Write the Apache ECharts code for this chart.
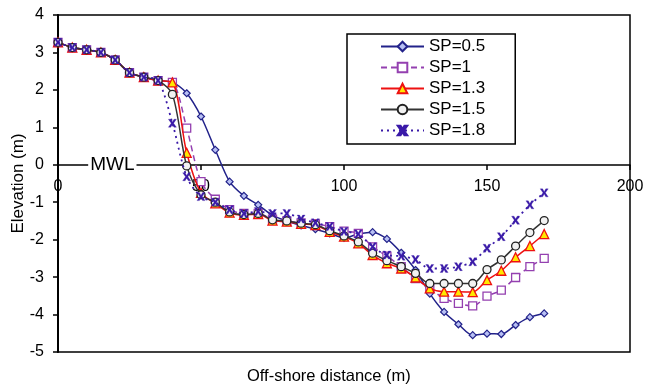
<!DOCTYPE html>
<html>
<head>
<meta charset="utf-8">
<script src="https://cdn.jsdelivr.net/npm/echarts@6/dist/echarts.min.js"></script>
<style>
html,body{margin:0;padding:0;background:#fff;}
#chart{width:646px;height:385px;}
</style>
</head>
<body>
<div id="chart"></div>
<script>
const distances = [0,5,10,15,20,25,30,35,40,45,50,55,60,65,70,75,80,85,90,95,100,105,110,115,120,125,130,135,140,145,150,155,160,165,170];
const shoreProfile = [3.27,3.13,3.07,3.0,2.8,2.46,2.34,2.25];
const sp05 = [2.2,1.91,1.29,0.40,-0.45,-0.83,-1.07,-1.35,-1.5,-1.62,-1.72,-1.83,-1.95,-1.85,-1.80,-1.98,-2.35,-2.81,-3.44,-3.93,-4.26,-4.55,-4.51,-4.52,-4.28,-4.07,-3.97];
const sp10 = [2.2,0.98,-0.45,-0.92,-1.2,-1.3,-1.3,-1.45,-1.5,-1.55,-1.58,-1.65,-1.77,-1.83,-2.19,-2.44,-2.72,-3.04,-3.30,-3.57,-3.70,-3.77,-3.51,-3.35,-3.01,-2.72,-2.50];
const sp13 = [2.2,0.32,-0.75,-1.03,-1.28,-1.34,-1.32,-1.49,-1.52,-1.58,-1.61,-1.79,-1.92,-2.10,-2.41,-2.63,-2.77,-3.01,-3.30,-3.39,-3.39,-3.40,-3.08,-2.83,-2.47,-2.17,-1.85];
const sp15 = [1.88,-0.03,-0.8,-1.0,-1.26,-1.33,-1.3,-1.47,-1.5,-1.56,-1.6,-1.76,-1.9,-2.06,-2.36,-2.56,-2.72,-2.9,-3.17,-3.17,-3.17,-3.17,-2.80,-2.54,-2.17,-1.81,-1.49];
const sp18 = [1.11,-0.32,-0.85,-1.0,-1.2,-1.3,-1.25,-1.3,-1.3,-1.45,-1.55,-1.65,-1.78,-1.85,-2.19,-2.41,-2.44,-2.53,-2.77,-2.77,-2.72,-2.59,-2.23,-1.92,-1.48,-1.07,-0.75];
const seriesNames = ['SP=0.5','SP=1','SP=1.3','SP=1.5','SP=1.8'];
const xAxisTitle = 'Off-shore distance (m)';
const yAxisTitle = 'Elevation (m)';
const mwlLabel = 'MWL';
const mwlX = 19;

function pairs(tail){
  const ys = shoreProfile.concat(tail);
  return distances.map((d,i)=>[d, ys[i]]);
}

const FONT = "'Liberation Sans', Arial, sans-serif";
const xSymbol = 'path://M0,0 L3,0 L5,3.5 L7,0 L10,0 L6.5,5 L10,10 L7,10 L5,6.5 L3,10 L0,10 L3.5,5 Z';

const chart = echarts.init(document.getElementById('chart'), null, {renderer:'canvas'});
const option = {
  backgroundColor:'#fff',
  animation:false,
  textStyle:{fontFamily:FONT},
  title:{text:xAxisTitle,left:247,top:368,padding:0,
    textStyle:{fontSize:16.5,fontWeight:'normal',color:'#000',fontFamily:FONT}},
  grid:{left:58,right:16,top:15,bottom:33,show:true,borderColor:'#000',borderWidth:1.5,
    backgroundColor:'transparent',containLabel:false,outerBoundsMode:'none'},
  legend:{
    orient:'vertical', left:347, top:34,
    data: seriesNames,
    itemWidth:43, itemHeight:12, itemGap:4,
    padding:[4,30,5,33],
    borderColor:'#000', borderWidth:1.5,
    backgroundColor:'#fff',
    textStyle:{fontSize:17,color:'#000',fontFamily:FONT}
  },
  xAxis:{
    type:'value', min:0, max:200, interval:50,
    position:'bottom', offset:-187,
    axisLine:{onZero:false,lineStyle:{color:'#000',width:1.5}},
    axisTick:{show:true,length:5,lineStyle:{color:'#000',width:1.5}},
    axisLabel:{fontSize:16,color:'#000',margin:14,fontFamily:FONT},
    splitLine:{show:false}
  },
  yAxis:{
    type:'value', min:-5, max:4, interval:1,
    axisLine:{show:true,onZero:false,lineStyle:{color:'#000',width:2}},
    axisTick:{show:true,length:5,lineStyle:{color:'#000',width:1.5}},
    axisLabel:{fontSize:16,color:'#000',margin:14,fontFamily:FONT},
    splitLine:{show:false},
    name:yAxisTitle, nameLocation:'middle', nameGap:31, nameMoveOverlap:false,
    nameTextStyle:{fontSize:17,color:'#000',fontFamily:FONT}
  },
  series:[
    {name:seriesNames[0],type:'line',data:pairs(sp05),smooth:0.3,
     symbol:'diamond',symbolSize:7,
     lineStyle:{color:'#22228a',width:1.5},
     itemStyle:{color:'#b8c0f4',borderColor:'#22228a',borderWidth:1.2},
     z:3,
     markPoint:{symbol:'rect',symbolSize:0,silent:true,
       label:{show:true,position:'inside',formatter:mwlLabel,fontSize:19,color:'#000',
              backgroundColor:'#fff',padding:[0,2],fontFamily:FONT},
       data:[{coord:[mwlX,0]}]}},
    {name:seriesNames[1],type:'line',data:pairs(sp10),smooth:0.3,
     symbol:'rect',symbolSize:8,
     lineStyle:{color:'#9440b0',width:1.5,type:[6,4]},
     itemStyle:{color:'#ffffff',borderColor:'#9440b0',borderWidth:1.3},
     z:4},
    {name:seriesNames[2],type:'line',data:pairs(sp13),smooth:0.3,
     symbol:'triangle',symbolSize:9,
     lineStyle:{color:'#ee1111',width:1.5},
     itemStyle:{color:'#ffe800',borderColor:'#ee1111',borderWidth:1.3},
     z:5},
    {name:seriesNames[3],type:'line',data:pairs(sp15),smooth:0.3,
     symbol:'circle',symbolSize:8,
     lineStyle:{color:'#333333',width:1.5},
     itemStyle:{color:'#f2f2f2',borderColor:'#222222',borderWidth:1.3},
     z:6},
    {name:seriesNames[4],type:'line',data:pairs(sp18),smooth:0.3,
     symbol:xSymbol,symbolSize:8,
     lineStyle:{color:'#3a1aa8',width:1.8,type:[2,4]},
     itemStyle:{color:'#3a1aa8',borderColor:'#3a1aa8',borderWidth:0.3},
     z:7}
  ]
};
chart.setOption(option);
</script>
</body>
</html>
